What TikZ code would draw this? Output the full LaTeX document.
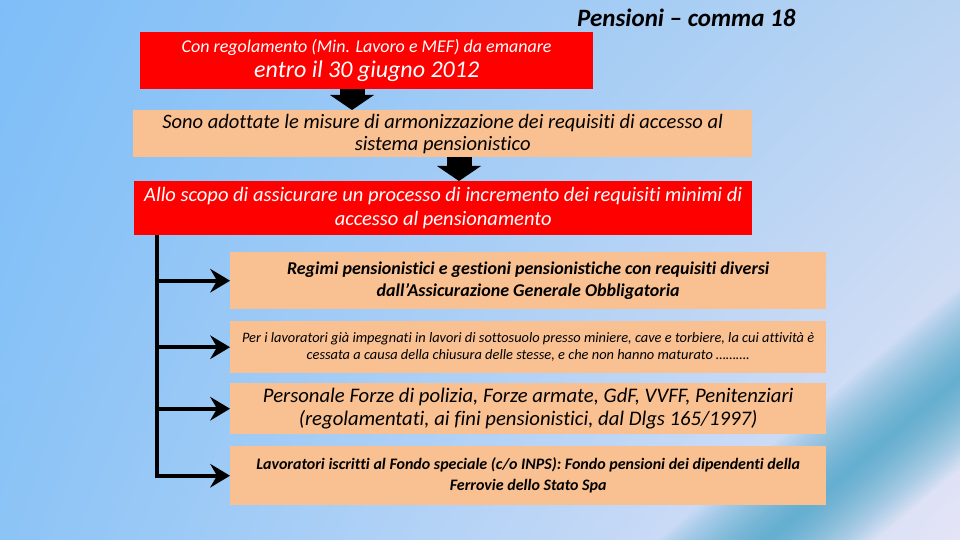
\documentclass[tikz,border=0pt]{standalone}
\usepackage{fontspec}
\setmainfont{Carlito}[Ligatures=NoCommon]
\usetikzlibrary{arrows.meta, calc, positioning, shadings}

\definecolor{bgul}{RGB}{126,190,248}
\definecolor{bgur}{RGB}{185,212,242}
\definecolor{bgll}{RGB}{140,196,246}
\definecolor{bglr}{RGB}{228,228,246}
\definecolor{bandteal}{RGB}{50,158,195}
\definecolor{boxred}{RGB}{255,0,0}
\definecolor{peach}{RGB}{249,192,145}

\begin{document}
\begin{tikzpicture}[x=1pt, y=-1pt,
	redbox/.style={fill=boxred, text=white, anchor=north west, align=center, inner sep=0pt},
	peachbox/.style={fill=peach, text=black, anchor=north west, align=center, inner sep=0pt},
	blockarrow/.style={line width=25pt, -{Triangle[width=44pt, length=15pt, line width=0pt]}},
	branch/.style={line width=4pt, -{Stealth[length=20pt, width=24pt, inset=7pt, line width=0pt]}}]
			\useasboundingbox (0,0) rectangle (960,540);
			\shade[upper left=bgul, upper right=bgur, lower left=bgll, lower right=bglr] (0,0) rectangle (960,540);
			\begin{scope}
				\clip (0,0) rectangle (960,540);
				\begin{scope}[shift={(880,445)}, rotate=40]
					\foreach \w in {3,6,...,69}
						\fill[bandteal, opacity=0.045] (-400,-\w) rectangle (400,\w);
				\end{scope}
			\end{scope}

			\node[font=\fontsize{25}{28}\selectfont\bfseries\itshape, anchor=east] (titolo) at (799,18) {Pensioni – comma 18};

			\node[redbox, minimum width=453pt, minimum height=57pt, font=\fontsize{18}{25}\selectfont\itshape] (reg) at (140,32)
				{Con regolamento (Min. Lavoro e MEF) da emanare\\{\fontsize{24}{25}\selectfont entro il 30 giugno 2012}};
			\node[peachbox, minimum width=619pt, minimum height=47pt, font=\fontsize{20.5}{22}\selectfont\itshape] (adop) at (133,110)
				{Sono adottate le misure di armonizzazione dei requisiti di accesso al\\sistema pensionistico};
			\node[redbox, minimum width=618pt, minimum height=54pt, font=\fontsize{20.5}{24}\selectfont\itshape] (scopo) at (134,181)
				{Allo scopo di assicurare un processo di incremento dei requisiti minimi di\\accesso al pensionamento};

			\node[peachbox, minimum width=596pt, minimum height=57pt, font=\fontsize{18}{22}\selectfont\bfseries\itshape] (regA) at (230,252)
				{Regimi pensionistici e gestioni pensionistiche con requisiti diversi\\dall’Assicurazione Generale Obbligatoria};
			\node[peachbox, minimum width=596pt, minimum height=52pt, font=\fontsize{14.4}{17}\selectfont\itshape] (regB) at (230,321)
				{Per i lavoratori già impegnati in lavori di sottosuolo presso miniere, cave e torbiere, la cui attività è\\cessata a causa della chiusura delle stesse, e che non hanno maturato ……….};
			\node[peachbox, minimum width=596pt, minimum height=51pt, font=\fontsize{20.7}{23}\selectfont\itshape] (regC) at (230,383)
				{Personale Forze di polizia, Forze armate, GdF, VVFF, Penitenziari\\(regolamentati, ai fini pensionistici, dal Dlgs 165/1997)};
			\node[peachbox, minimum width=596pt, minimum height=59pt, font=\fontsize{16}{21}\selectfont\bfseries\itshape] (regD) at (230,446)
				{Lavoratori iscritti al Fondo speciale (c/o INPS): Fondo pensioni dei dipendenti della\\Ferrovie dello Stato Spa};

			\draw[blockarrow] ($(reg.south west)+(212,0)$) -- ($(adop.north west)+(219,0)$);
			\draw[blockarrow] ($(adop.south west)+(326,0)$) -- ($(scopo.north west)+(325,0)$);

			\coordinate (spine) at ($(scopo.south west)+(23,0)$);
			\foreach \b in {regA,regB,regC,regD}
				\draw[branch] (spine) |- (\b.west);
		\end{tikzpicture}
\end{document}
